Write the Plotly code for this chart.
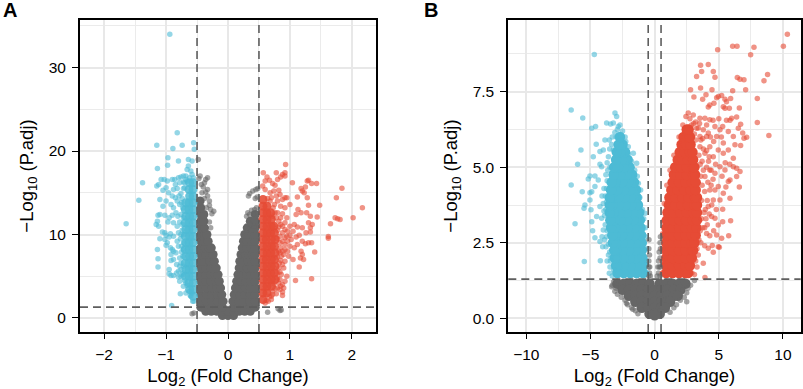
import plotly.graph_objects as go

COL_GRAY = "#666666"
COL_BLUE = "#4DBBD5"
COL_RED = "#E64B35"
FC_CUT = 0.5
P_CUT = 1.3

# ---------- Panel A ----------
A_XTICKS = [-2, -1, 0, 1, 2]
A_YTICKS = [0, 10, 20, 30]
A_GRAY_DENSE = {
    0.3: [-.09, 0, .09],
    0.8: [-.36, -.27, -.18, -.09, 0, .09, .18, .27, .36],
    1.3: [-.44, -.36, -.27, -.18, -.09, .09, .18, .27, .36, .44],
    2.0: [-.44, -.35, -.26, -.17, -.08, .08, .17, .26, .35, .44],
    2.8: [-.44, -.35, -.26, -.17, -.1, .1, .19, .27, .36, .44],
    3.6: [-.44, -.35, -.26, -.18, -.12, .12, .2, .28, .36, .44],
    4.4: [-.44, -.36, -.28, -.2, -.14, .14, .21, .29, .37, .44],
    5.2: [-.44, -.36, -.28, -.21, -.16, .16, .23, .3, .37, .44],
    6.0: [-.44, -.36, -.28, -.19, .18, .25, .31, .38, .44],
    6.8: [-.44, -.37, -.29, -.22, .19, .26, .32, .38, .44],
    7.6: [-.44, -.36, -.29, -.24, .21, .28, .34, .39, .44],
    8.4: [-.44, -.37, -.31, -.27, .23, .3, .37, .44],
    9.2: [-.44, -.38, -.32, .25, .31, .38, .44],
    10.0: [-.44, -.38, -.34, .27, .33, .39, .44],
    10.8: [-.44, -.38, .31, .38, .44],
    11.6: [-.44, -.39, .36, .44],
    12.4: [-.44, -.39, .44],
    13.2: [-.44],
    14.0: [-.45],
}
A_GRAY_SPARSE = [
    (-.42, 15.0), (-.36, 15.1), (-.33, 14.6), (-.3, 14.0), (-.38, 14.3), (-.3, 13.5), (-.35, 13.2),
    (-.43, 16.0), (-.38, 16.2), (-.33, 16.8), (-.36, 16.6), (-.47, 16.7), (-.45, 17.0), (-.48, 19.0),
    (-.4, 15.7), (-.33, 15.4), (-.28, 13.0), (-.23, 12.8), (-.26, 12.5), (-.3, 11.5), (-.28, 10.8),
    (.33, 14.6), (.35, 14.9), (.4, 15.2), (.45, 15.4), (.47, 14.5), (.44, 14.3), (.48, 15.5),
    (.43, 13.0), (.38, 12.9), (.32, 12.6), (.3, 12.2), (.35, 12.4), (.41, 12.5), (.46, 13.2),
    (.42, 11.0), (.36, 11.2), (.3, 10.8), (-.58, .5), (-.55, .6), (.81, 1.1), (.64, .7), (.84, .9), (.86, .95),
]
A_BLUE_DENSE = {
    2.6: [-.56],
    3.4: [-.565, -.62],
    4.2: [-.565, -.63],
    5.0: [-.565, -.63, -.69],
    5.8: [-.565, -.63, -.68],
    6.6: [-.565, -.63, -.69],
    7.4: [-.565, -.62, -.68],
    8.2: [-.565, -.63, -.69],
    9.0: [-.565, -.63, -.68],
    9.8: [-.565, -.62, -.69],
    10.6: [-.565, -.63, -.68],
    11.4: [-.565, -.63, -.69],
    12.2: [-.565, -.62, -.68],
    13.0: [-.565, -.63, -.69],
    13.8: [-.565, -.63, -.68],
    14.6: [-.565, -.62],
    15.4: [-.565, -.63],
    16.2: [-.565, -.62],
}
A_BLUE_SPARSE = [
    (-.94, 34.0), (-.82, 22.2), (-1.15, 20.7), (-.89, 20.3), (-.74, 20.7), (-.555, 21.0), (-.545, 20.2),
    (-.97, 19.2), (-.975, 18.3), (-1.14, 17.9), (-.8, 18.8), (-.64, 19.0), (-.58, 18.8), (-1.38, 16.2),
    (-1.44, 14.1), (-1.645, 11.3), (-1.08, 16.6), (-1.03, 16.6), (-1.12, 16.0), (-1.15, 15.8), (-1.0, 15.6),
    (-1.05, 15.3), (-.96, 15.0), (-.98, 16.4), (-.9, 16.6), (-.86, 16.6), (-.85, 16.0), (-.8, 16.8),
    (-.76, 16.9), (-.72, 17.0), (-.68, 17.0), (-.66, 17.8), (-.64, 18.2), (-.6, 17.6), (-.58, 17.2),
    (-.78, 16.2), (-.72, 16.3), (-.88, 15.4), (-.82, 15.5), (-.9, 14.6), (-.85, 14.4), (-1.0, 14.0),
    (-1.1, 14.2), (-.82, 14.0), (-.76, 14.9), (-.72, 15.5), (-.78, 13.6), (-.88, 13.2), (-.92, 13.6),
    (-1.05, 13.4), (-1.1, 12.4), (-1.13, 12.3), (-1.02, 12.3), (-.95, 12.0), (-.9, 12.3), (-.84, 12.6),
    (-.76, 12.4), (-1.14, 11.6), (-1.16, 11.2), (-1.12, 11.0), (-.97, 11.5), (-.88, 11.4), (-.82, 11.0),
    (-.78, 11.5), (-1.06, 10.3), (-1.02, 10.2), (-1.0, 9.9), (-.95, 9.7), (-.93, 10.1), (-1.1, 9.5),
    (-1.02, 9.4), (-.98, 9.0), (-1.0, 8.7), (-.88, 9.8), (-.8, 10.2), (-.74, 10.5), (-.77, 9.5),
    (-1.14, 8.2), (-.93, 8.4), (-.9, 8.2), (-.88, 8.0), (-.92, 7.6), (-1.13, 7.1), (-.88, 7.0), (-.92, 6.9),
    (-1.13, 6.1), (-.95, 5.8), (-.95, 5.3), (-.92, 5.1), (-.88, 5.1), (-.8, 5.6), (-.8, 4.9), (-.78, 4.4),
    (-.76, 5.8), (-.74, 5.2), (-.76, 6.6), (-.73, 7.4), (-.75, 8.6), (-.72, 9.0), (-.72, 6.2), (-.7, 4.5),
    (-.66, 3.9), (-.62, 3.2), (-.61, 2.7), (-.77, 2.9), (-.55, 2.0), (-.57, 2.0), (-.91, 1.5), (-.68, 3.0),
    (-.58, 3.0), (-.74, 11.2), (-.75, 7.9), (-.73, 13.2), (-.74, 14.3), (-.7, 15.6), (-.66, 16.4),
    (-.78, 7.2), (-.8, 8.6), (-.82, 9.2), (-.84, 7.8), (-.78, 6.2), (-.83, 6.4), (-.76, 10.0), (-.81, 12.2),
    (-.79, 14.6), (-.75, 13.8), (-.72, 12.0), (-.72, 10.0), (-.72, 8.2), (-.7, 16.2), (-.68, 16.6),
    (-.62, 16.8), (-.56, 16.8), (-.76, 5.0), (-.72, 5.4), (-.72, 3.8), (-.68, 4.2), (-.6, 2.6), (-.83, 5.4),
]
A_RED_DENSE = {
    2.2: [.565],
    3.0: [.565, .63],
    3.8: [.565, .63, .7],
    4.6: [.565, .63, .7, .76],
    5.4: [.565, .63, .69, .75],
    6.2: [.565, .63, .7, .76],
    7.0: [.565, .62, .7, .75],
    7.8: [.565, .63, .69, .76],
    8.6: [.565, .63, .7, .75],
    9.4: [.565, .62, .7, .76],
    10.2: [.565, .63, .69, .75],
    11.0: [.565, .63, .7, .74],
    11.8: [.565, .63, .7],
    12.6: [.565, .63, .69],
    13.4: [.565, .63],
    14.2: [.565],
}
A_RED_SPARSE = [
    (2.17, 13.2), (1.84, 15.55), (1.75, 14.4), (2.02, 12.0), (1.73, 12.0), (1.77, 11.9), (1.81, 11.8),
    (1.655, 11.3), (1.62, 9.75), (1.62, 9.55), (1.48, 13.5), (1.44, 12.1), (1.43, 16.1), (1.35, 16.1),
    (1.3, 16.5), (1.35, 4.7), (1.09, 4.5), (1.4, 7.9), (.57, 17.4), (.63, 16.9), (.6, 16.4), (.67, 16.5),
    (.72, 16.1), (.76, 15.9), (.8, 16.6), (.85, 16.9), (.78, 17.4), (.88, 17.2), (.92, 17.0), (.92, 17.4),
    (.93, 18.4), (1.04, 16.2), (.74, 15.2), (.68, 15.0), (.6, 15.4), (.56, 15.8), (.82, 15.3), (.92, 14.4),
    (.95, 14.4), (1.12, 14.5), (1.2, 15.2), (1.25, 15.7), (1.18, 15.5), (1.28, 16.4), (1.23, 15.0),
    (1.28, 14.4), (1.3, 13.5), (1.13, 13.0), (1.18, 12.6), (1.1, 12.4), (1.27, 12.6), (1.33, 12.2),
    (1.0, 13.6), (.92, 13.2), (.85, 13.4), (.8, 14.0), (.88, 12.5), (.95, 12.0), (1.0, 11.0), (1.07, 11.2),
    (1.05, 10.4), (1.12, 10.9), (1.2, 10.8), (1.3, 11.4), (1.33, 10.8), (1.26, 10.2), (1.33, 10.3),
    (1.36, 11.2), (1.15, 9.9), (1.1, 9.7), (1.02, 9.4), (.95, 9.8), (.88, 10.2), (.85, 11.2), (.92, 8.8),
    (.85, 8.4), (1.0, 8.6), (1.07, 8.4), (1.12, 8.8), (1.2, 9.2), (1.25, 8.9), (1.3, 9.0), (1.35, 9.0),
    (1.18, 8.0), (1.2, 7.6), (1.22, 7.0), (1.17, 7.2), (1.15, 6.1), (1.05, 7.0), (.98, 7.4), (.9, 7.6),
    (.85, 6.9), (.9, 6.0), (.84, 5.5), (.95, 5.0), (.88, 4.0), (.9, 3.6), (.88, 3.1), (.88, 2.7), (.8, 3.6),
    (.78, 2.9), (.7, 2.6), (.65, 2.0), (.6, 1.8), (.72, 3.2), (.8, 4.8), (.82, 6.0), (.8, 7.3), (.82, 8.0),
    (.8, 9.5), (.8, 10.5), (.78, 12.0), (.73, 13.2), (.68, 14.0),
    (.82, 4.2), (.84, 4.6), (.86, 5.2), (.8, 5.4), (.83, 6.6), (.88, 6.4), (.92, 6.8), (.86, 7.4), (.84, 7.8),
    (.88, 8.0), (.92, 8.2), (.96, 8.0), (.84, 9.0), (.88, 9.2), (.92, 9.6), (.84, 9.8), (.96, 9.2), (1.0, 9.9),
    (.82, 10.9), (.88, 11.0), (.92, 10.6), (.96, 10.4), (.82, 11.6), (.85, 12.0), (.92, 11.4), (.8, 12.6),
    (.76, 12.6), (.75, 13.6), (.72, 12.2), (.7, 14.4), (.64, 14.3), (.78, 14.6), (.88, 14.2), (.84, 14.8),
    (.72, 2.8), (.76, 3.5), (.7, 2.2), (.62, 2.1), (.67, 2.6), (.74, 4.1), (.84, 3.4), (.85, 3.8), (.92, 4.4),
]

# ---------- Panel B ----------
B_XTICKS = [-10, -5, 0, 5, 10]
B_YTICKS = [0, 2.5, 5, 7.5]
B_YLABELS = ["0.0", "2.5", "5.0", "7.5"]
B_GRAY_DENSE = {
    1.15: [-2.9, -2.4, -1.9, -1.4, -.9, -.4, .4, .9, 1.4, 1.9, 2.4],
    0.95: [-2.5, -2.0, -1.5, -1.0, -.5, 0, .5, 1.0, 1.5, 2.0],
    0.75: [-2.0, -1.5, -1.0, -.5, 0, .5, 1.0, 1.5, 1.8],
    0.55: [-1.5, -1.0, -.5, 0, .5, 1.0, 1.2],
    0.35: [-1.0, -.5, 0, .5, .8],
    0.15: [-.4, 0, .4],
    0.1: [0],
}
B_GRAY_SPARSE = [
    (-3.2, 1.2), (-3.35, 1.05), (-3.3, 1.1), (-3.1, .9), (-3.0, 1.0), (-2.9, .8), (-2.6, .7), (-2.2, .5),
    (-2.1, .45), (-2.3, .6), (-1.8, .35), (-1.7, .3), (-1.5, .25), (-1.3, .15), (1.2, .2), (1.5, .35),
    (1.7, .45), (2.0, .6), (2.3, .7), (2.5, .85), (2.6, 1.0), (2.8, 1.1), (2.5, .55), (2.2, .95), (3.1, 1.25),
    (-.45, 1.4), (-.4, 1.5), (-.45, 1.7), (-.38, 1.7), (-.45, 1.9), (-.4, 2.1), (-.45, 2.3), (-.44, 2.6),
    (-.33, 1.4), (.2, 1.4), (.3, 1.5), (.42, 1.4), (.25, 1.7), (.36, 1.7), (.45, 1.7), (.3, 1.9), (.42, 2.0),
    (.35, 2.2), (.45, 2.3), (.42, 2.5), (.45, 2.7),
]
B_BLUE_DENSE = {
    1.5: [-.9, -1.4, -1.9, -2.4, -2.9],
    1.75: [-.9, -1.4, -1.9, -2.4, -2.9, -3.0],
    2.0: [-.95, -1.45, -1.95, -2.45, -2.95, -3.1],
    2.25: [-1.0, -1.5, -2.0, -2.5, -3.0, -3.15],
    2.5: [-1.0, -1.5, -2.0, -2.5, -3.0, -3.25],
    2.75: [-1.05, -1.55, -2.05, -2.55, -3.05, -3.3],
    3.0: [-1.1, -1.6, -2.1, -2.6, -3.1, -3.4],
    3.25: [-1.15, -1.65, -2.15, -2.65, -3.15, -3.45],
    3.5: [-1.2, -1.7, -2.2, -2.7, -3.2, -3.5],
    3.75: [-1.3, -1.8, -2.3, -2.8, -3.3, -3.5],
    4.0: [-1.4, -1.85, -2.35, -2.85, -3.35, -3.5],
    4.25: [-1.45, -1.9, -2.4, -2.9, -3.4],
    4.5: [-1.6, -2.05, -2.55, -3.05, -3.35],
    4.75: [-1.75, -2.2, -2.7, -3.2],
    5.0: [-1.95, -2.4, -2.85, -3.15],
    5.25: [-2.1, -2.55, -3.0],
    5.5: [-2.3, -2.7, -2.95],
    5.75: [-2.5, -2.8],
    6.0: [-2.7],
}
B_BLUE_SPARSE = [
    (-4.7, 8.73), (-6.5, 6.89), (-5.6, 6.63), (-4.9, 6.29), (-4.6, 6.35), (-5.74, 5.57), (-6.0, 5.1),
    (-6.5, 4.41), (-5.64, 4.19), (-4.78, 5.35), (-4.55, 5.76), (-4.26, 5.1), (-4.26, 5.52), (-5.04, 4.71),
    (-5.17, 4.61), (-4.65, 4.71), (-5.04, 4.16), (-4.9, 4.19), (-5.43, 3.75), (-5.5, 3.64), (-5.04, 3.92),
    (-4.96, 3.59), (-6.2, 3.13), (-4.9, 3.2), (-4.83, 2.9), (-4.65, 2.67), (-5.48, 1.88), (-4.23, 1.91),
    (-4.26, 2.54), (-4.0, 2.92), (-4.13, 3.31), (-4.52, 3.37), (-3.87, 5.9), (-3.74, 6.46), (-3.43, 6.43),
    (-3.09, 6.79), (-2.96, 6.68), (-3.22, 6.46), (-2.83, 6.35), (-2.7, 6.4), (-4.0, 5.57), (-4.13, 5.02),
    (-4.39, 4.58), (-3.95, 4.3), (-4.65, 4.36), (-4.0, 3.8), (-4.26, 3.7), (-3.79, 2.37), (-4.05, 2.37),
    (-3.6, 2.1), (-3.48, 1.7), (-3.53, 1.49), (-1.4, 5.13), (-1.66, 5.46), (-1.27, 4.47), (-1.09, 4.25),
    (-.75, 3.48), (-2.05, 5.68), (-2.3, 6.0), (-3.48, 5.0), (-3.22, 5.57), (-3.53, 5.9), (-.6, 1.5),
    (-.6, 1.9), (-.62, 2.3), (-.7, 2.7), (-.72, 3.0), (-3.3, 1.4), (-3.4, 2.0),
    (-3.75, 2.7), (-3.85, 3.1), (-3.9, 3.4), (-3.8, 3.6), (-3.95, 3.55), (-3.75, 3.85), (-3.85, 4.05),
    (-3.75, 4.3), (-3.7, 4.55), (-3.8, 4.75), (-3.65, 4.9), (-3.7, 5.15), (-3.6, 5.35), (-3.5, 5.6), (-3.35, 5.75),
    (-3.3, 6.0), (-3.1, 6.15), (-2.9, 6.25), (-3.0, 6.0), (-2.5, 6.2), (-2.6, 5.9), (-2.25, 5.85), (-2.05, 5.45),
    (-1.8, 5.2), (-1.55, 4.9), (-1.35, 4.7), (-1.15, 4.0), (-.95, 3.6), (-.85, 3.3), (-3.7, 2.9), (-3.6, 2.45),
    (-3.5, 2.2), (-3.45, 1.9), (-3.7, 1.9), (-3.2, 1.6), (-3.9, 2.6), (-4.1, 2.7), (-4.1, 4.05),
]
B_RED_DENSE = {
    1.5: [.9, 1.4, 1.9, 2.4, 2.6],
    1.75: [.9, 1.4, 1.9, 2.4, 2.75],
    2.0: [.9, 1.4, 1.9, 2.4, 2.9],
    2.25: [.9, 1.4, 1.9, 2.4, 2.9, 3.0],
    2.5: [.9, 1.4, 1.9, 2.4, 2.9, 3.1],
    2.75: [.9, 1.4, 1.9, 2.4, 2.9, 3.2],
    3.0: [.92, 1.42, 1.92, 2.42, 2.92, 3.25],
    3.25: [.95, 1.45, 1.95, 2.45, 2.95, 3.3],
    3.5: [1.0, 1.5, 2.0, 2.5, 3.0, 3.3],
    3.75: [1.1, 1.6, 2.1, 2.6, 3.1, 3.3],
    4.0: [1.15, 1.65, 2.15, 2.65, 3.15, 3.3],
    4.25: [1.3, 1.8, 2.3, 2.8, 3.2],
    4.5: [1.4, 1.9, 2.4, 2.9, 3.2],
    4.75: [1.5, 2.0, 2.5, 3.0, 3.15],
    5.0: [1.6, 2.05, 2.5, 3.0, 3.1],
    5.25: [1.8, 2.2, 2.6, 3.0],
    5.5: [1.95, 2.35, 2.75, 2.95],
    5.75: [2.1, 2.45, 2.8],
    6.0: [2.25, 2.6, 2.75],
    6.25: [2.5, 2.65],
}
B_RED_SPARSE = [
    (10.34, 9.4), (10.03, 9.0), (7.74, 8.97), (7.48, 8.72), (6.08, 9.0), (6.42, 9.0), (4.91, 8.89),
    (8.8, 8.07), (8.52, 7.86), (8.0, 7.27), (8.0, 6.48), (8.9, 6.05), (7.09, 7.56), (6.44, 7.97),
    (6.65, 7.91), (6.96, 7.89), (6.08, 7.53), (3.58, 8.37), (4.18, 8.4), (3.66, 8.17), (3.27, 8.0),
    (4.57, 8.17), (4.7, 7.98), (2.8, 7.56), (3.58, 7.62), (4.47, 7.56), (3.06, 7.32), (4.0, 7.4),
    (3.74, 7.25), (4.83, 7.3), (5.22, 7.37), (4.96, 7.34), (5.48, 7.25), (5.92, 7.27), (5.6, 7.17),
    (4.62, 7.12), (4.3, 7.06), (4.18, 6.99), (5.35, 7.0), (5.48, 6.95), (5.82, 6.95), (6.6, 6.96),
    (6.39, 6.66), (6.0, 6.62), (5.87, 6.55), (6.7, 6.42), (6.52, 6.29), (7.17, 5.99), (6.86, 6.13),
    (6.96, 5.96), (6.7, 5.72), (6.26, 5.74), (6.13, 6.02), (5.74, 6.18), (5.09, 6.24), (4.7, 6.35),
    (4.3, 6.57), (3.92, 6.62), (3.53, 6.62), (3.01, 6.73), (2.62, 6.79), (2.44, 6.68), (2.88, 6.4),
    (3.27, 6.29), (3.79, 6.24), (4.18, 6.13), (4.83, 6.02), (5.35, 5.8), (5.74, 5.57), (6.13, 5.3),
    (6.65, 4.86), (6.39, 4.97), (6.13, 5.02), (6.39, 4.69), (5.87, 4.58), (5.74, 4.53), (6.6, 4.35),
    (5.87, 3.97), (5.35, 4.14), (5.09, 3.92), (5.3, 3.61), (5.92, 3.23), (5.3, 3.2), (4.96, 3.09),
    (4.7, 3.31), (5.77, 2.73), (4.83, 2.76), (5.22, 2.65), (4.96, 2.37), (5.04, 2.35), (4.49, 2.41),
    (4.57, 2.19), (4.18, 2.32), (4.3, 2.73), (3.79, 1.82), (3.92, 1.35), (4.05, 2.81), (4.44, 3.37),
    (4.18, 3.7), (4.57, 3.92), (4.96, 4.36), (4.3, 4.25), (4.7, 4.8), (5.09, 5.02), (4.3, 4.91),
    (3.92, 4.69), (5.48, 4.91), (4.57, 5.35), (3.92, 5.46), (3.53, 5.68), (4.3, 5.68), (4.96, 5.57),
    (5.35, 5.46), (4.05, 6.02), (3.53, 6.02), (3.4, 6.3), (3.1, 6.1), (3.7, 5.2), (3.8, 4.9), (3.9, 4.2),
    (3.85, 3.5), (3.75, 3.0), (3.6, 2.5), (3.4, 2.1), (3.3, 1.7), (3.1, 1.45), (2.9, 1.5), (3.2, 1.9),
    (3.9, 2.4), (4.1, 3.1), (4.2, 5.2), (3.6, 5.9), (3.2, 5.9), (4.4, 4.4), (4.1, 3.9),
    (.6, 1.5), (.6, 1.9), (.6, 2.3), (.62, 2.8), (.65, 3.2), (.75, 3.8), (.95, 4.4), (1.2, 4.9), (1.5, 5.4), (1.9, 6.0), (2.2, 6.4),
    (3.65, 3.9), (3.7, 4.4), (3.6, 4.7), (3.55, 5.1), (3.45, 5.4), (3.65, 3.3), (3.55, 2.9), (3.45, 2.6), (3.3, 2.3),
    (3.15, 2.2), (3.95, 3.6), (4.0, 3.3), (4.25, 3.45), (3.9, 3.0), (4.15, 4.5), (4.4, 4.9), (4.05, 5.0), (3.8, 5.6),
    (4.05, 5.55), (4.25, 5.35), (4.55, 4.6), (4.7, 4.25), (4.45, 3.75), (4.75, 5.1), (4.6, 5.85), (4.35, 6.0),
    (3.75, 5.95), (3.5, 6.45), (3.05, 6.45), (3.2, 6.5), (2.75, 6.6), (4.05, 6.4), (4.55, 6.55), (5.0, 6.6),
    (5.3, 6.35), (5.2, 6.0), (5.6, 6.55), (5.5, 5.15), (5.85, 5.1), (5.25, 4.7), (5.55, 4.35), (4.8, 3.6), (4.6, 2.9),
]


def flatten(rows):
    return [(x, y) for y, xs in rows.items() for x in xs]


def add_panel(fig, ax, dense_sets, sparse_sets, dense_size):
    xa, ya = ("x", "y") if ax == 1 else ("x2", "y2")
    for pts, col, op in dense_sets:
        fig.add_trace(go.Scatter(x=[p[0] for p in pts], y=[p[1] for p in pts], mode="markers", xaxis=xa, yaxis=ya,
                                 marker=dict(color=col, size=dense_size, opacity=op, line=dict(width=0)), cliponaxis=True))
    for pts, col in sparse_sets:
        fig.add_trace(go.Scatter(x=[p[0] for p in pts], y=[p[1] for p in pts], mode="markers", xaxis=xa, yaxis=ya,
                                 marker=dict(color=col, size=5.5, opacity=0.6, line=dict(width=0)), cliponaxis=True))


fig = go.Figure()
add_panel(fig, 1,
          [(flatten(A_GRAY_DENSE), COL_GRAY, 1), (flatten(A_BLUE_DENSE), COL_BLUE, .85), (flatten(A_RED_DENSE), COL_RED, .9)],
          [(A_GRAY_SPARSE, COL_GRAY), (A_BLUE_SPARSE, COL_BLUE), (A_RED_SPARSE, COL_RED)], 9)
add_panel(fig, 2,
          [(flatten(B_GRAY_DENSE), COL_GRAY, 1), (flatten(B_BLUE_DENSE), COL_BLUE, 1), (flatten(B_RED_DENSE), COL_RED, 1)],
          [(B_GRAY_SPARSE, COL_GRAY), (B_BLUE_SPARSE, COL_BLUE), (B_RED_SPARSE, COL_RED)], 10.5)

W, H = 803, 389


def axis(domain, rng, ticks, minor, title, anchor, standoff, ticklen, labelgap):
    return dict(domain=domain, range=rng, tickmode="array", tickvals=ticks, showgrid=True,
                gridcolor="#e8e8e8", gridwidth=2, zeroline=False, showline=True, mirror=True,
                linecolor="#000", linewidth=2, ticks="outside", ticklen=ticklen, tickwidth=1, tickcolor="#000",
                tickfont=dict(size=15.5, color="#000"), ticklabelstandoff=labelgap,
                minor=dict(tickmode="array", tickvals=minor, showgrid=True, gridcolor="#ebebeb", gridwidth=1, ticks=""),
                title=dict(text=title, font=dict(size=18.5, color="#000"), standoff=standoff), anchor=anchor)


XT = "Log<sub>2</sub> (Fold Change)"
YT = "\u2212Log<sub>10</sub> (P.adj)"
yd = [(H - 332) / H, (H - 20) / H]
fig.update_layout(
    width=W, height=H, margin=dict(l=0, r=0, t=0, b=0), showlegend=False, autosize=False,
    paper_bgcolor="white", plot_bgcolor="white", font=dict(family="Liberation Sans, Arial, sans-serif"),
    xaxis=axis([80 / W, 376 / W], [-2.39, 2.39], A_XTICKS, [-1.5, -.5, .5, 1.5], XT, "y", 8, 5, 2),
    yaxis=axis(yd, [-1.68, 35.7], A_YTICKS, [5, 15, 25, 35], YT, "x", 10, 6, 3),
    xaxis2=axis([508.3 / W, 800.7 / W], [-11.4, 11.38], B_XTICKS, [-7.5, -2.5, 2.5, 7.5], XT, "y2", 8, 5, 2),
    yaxis2=axis(yd, [-.45, 9.87], B_YTICKS, [1.25, 3.75, 6.25, 8.75], YT, "x2", 10, 6, 3),
)
fig.layout.yaxis2.ticktext = B_YLABELS

dash = dict(color="#5e5e5e", width=1.6, dash="8px,5px")
for xr, yr in (("x", "y"), ("x2", "y2")):
    for v in (-FC_CUT, FC_CUT):
        fig.add_shape(type="line", xref=xr, yref=f"{yr} domain", x0=v, x1=v, y0=0, y1=1, line=dash, layer="above")
    fig.add_shape(type="line", xref=f"{xr} domain", yref=yr, x0=0, x1=1, y0=P_CUT, y1=P_CUT, line=dash, layer="above")

for txt, px in (("A", 1), ("B", 422)):
    fig.add_annotation(text=f"<b>{txt}</b>", xref="paper", yref="paper", x=px / W, y=1 - 10 / H,
                       xanchor="left", yanchor="middle", showarrow=False, font=dict(size=20, color="#000"))

fig.write_html("out.html", config={"displayModeBar": False}, post_script="document.body.style.margin='0';")
